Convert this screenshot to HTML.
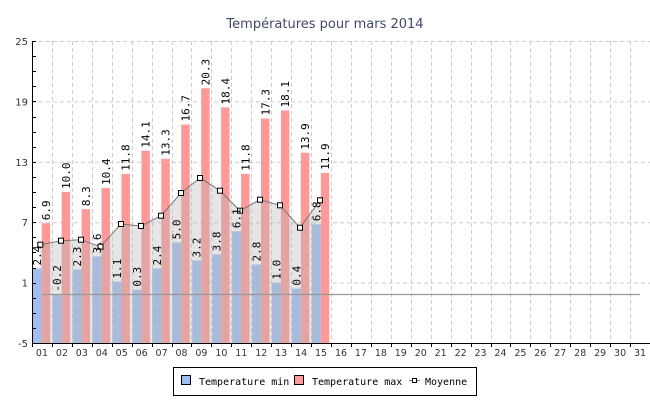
<!DOCTYPE html>
<html><head><meta charset="utf-8"><style>
html,body{margin:0;padding:0;background:#fff;width:650px;height:400px;overflow:hidden}
svg{display:block}
</style></head><body>
<svg id="s" width="650" height="400" xmlns="http://www.w3.org/2000/svg"></svg>
<script>
const s=document.getElementById('s');
let h='';
const L=32,R=650,T=41,B=343,cw=(R-L)/31;
const y=v=>B-(v+5)*(B-T)/30;
h+='<text x="325" y="28" text-anchor="middle" font-family="DejaVu Sans, sans-serif" font-size="13" fill="#3f4a6a">Températures pour mars 2014</text>';
for(let v=-5;v<=25;v+=6){h+=`<line x1="${L}" x2="${R}" y1="${y(v)+.5}" y2="${y(v)+.5}" stroke="#ccc" stroke-dasharray="4,3"/>`;
h+=`<text x="28" y="${y(v)+4}" text-anchor="end" font-family="DejaVu Sans, sans-serif" font-size="10" fill="#333">${v}</text>`;}
for(let i=1;i<=31;i++){const x=Math.round(L+i*cw)+.5;h+=`<line x1="${x}" x2="${x}" y1="${T}" y2="${B}" stroke="#ccc" stroke-dasharray="4,3"/>`;}
const mn=[2.4,-0.2,2.3,3.6,1.1,0.3,2.4,5.0,3.2,3.8,6.1,2.8,1.0,0.4,6.8];
const mx=[6.9,10.0,8.3,10.4,11.8,14.1,13.3,16.7,20.3,18.4,11.8,17.3,18.1,13.9,11.9];
const pts=[[40.3,244.7],[61,240.7],[81,239.7],[100.5,246.7],[121,224],[141,226],[161,215.7],[181,193],[200,178],[220,190.7],[240,210.7],[260,199.7],[280,205.3],[300,227.7],[320,200.3]];
for(let i=0;i<15;i++){const l=L+i*cw;
h+=`<rect x="${l+0.7}" y="${y(mn[i])}" width="9" height="${B-y(mn[i])}" fill="#a0bdee"/>`;
h+=`<rect x="${l+9.7}" y="${y(mx[i])}" width="8.5" height="${B-y(mx[i])}" fill="#f99"/>`;}
let p=`M${pts[0][0]},${B} `+pts.map(q=>`L${q[0]},${q[1]}`).join(' ')+` L${pts[14][0]},${B} Z`;
h+=`<path d="${p}" fill="rgba(185,185,185,0.37)"/>`;
h+=`<path d="${pts.map((q,i)=>(i?'L':'M')+q[0]+','+q[1]).join(' ')}" fill="none" stroke="#777" stroke-width="1"/>`;
pts.forEach(q=>{h+=`<rect x="${q[0]-2.5}" y="${q[1]-2.5}" width="5" height="5" fill="#fff" stroke="#000" stroke-width="1"/>`;});
h+=`<line x1="42" x2="640" y1="294.5" y2="294.5" stroke="#999" stroke-width="1.2"/>`;
for(let i=0;i<15;i++){const l=L+i*cw;
const f=(v,cx)=>{const yy=y(v)-3;return `<text transform="translate(${cx+4},${yy}) rotate(-90)" font-family="DejaVu Sans Mono, Liberation Mono, monospace" font-size="11" fill="#000">${v.toFixed(1)}</text>`;};
h+=f(mn[i],l+5.2);h+=f(mx[i],l+14);}
h+=`<line x1="${L+.5}" x2="${L+.5}" y1="${T}" y2="${B}" stroke="#000"/>`;
h+=`<line x1="${L}" x2="${R}" y1="${B+.5}" y2="${B+.5}" stroke="#000"/>`;
for(let v=-5;v<=25;v+=1.5){h+=`<line x1="${L}" x2="${L+4}" y1="${Math.round(y(v))+.5}" y2="${Math.round(y(v))+.5}" stroke="#000"/>`;}
for(let i=0;i<=31;i++){const x=Math.round(L+i*cw)+.5;h+=`<line x1="${x}" x2="${x}" y1="${B}" y2="${B+4}" stroke="#000"/>`;}
for(let i=1;i<=31;i++){h+=`<text x="${L+(i-0.5)*cw}" y="356" text-anchor="middle" font-family="DejaVu Sans, sans-serif" font-size="9.5" fill="#333">${String(i).padStart(2,'0')}</text>`;}
h+=`<rect x="173.5" y="367.5" width="303" height="28" fill="#fff" stroke="#000"/>`;
h+=`<rect x="181.5" y="375.5" width="9" height="9" fill="#a0bdee" stroke="#000"/>`;
h+=`<text x="199" y="385" font-family="DejaVu Sans Mono, monospace" font-size="10">Temperature min</text>`;
h+=`<rect x="294.5" y="375.5" width="9" height="9" fill="#f99" stroke="#000"/>`;
h+=`<text x="312" y="385" font-family="DejaVu Sans Mono, monospace" font-size="10">Temperature max</text>`;
h+=`<line x1="409" x2="420" y1="380.5" y2="380.5" stroke="#777"/><rect x="412.5" y="378.5" width="4" height="4" fill="#fff" stroke="#000"/>`;
h+=`<text x="425" y="385" font-family="DejaVu Sans Mono, monospace" font-size="10">Moyenne</text>`;
s.innerHTML=h;
</script>
</body></html>
